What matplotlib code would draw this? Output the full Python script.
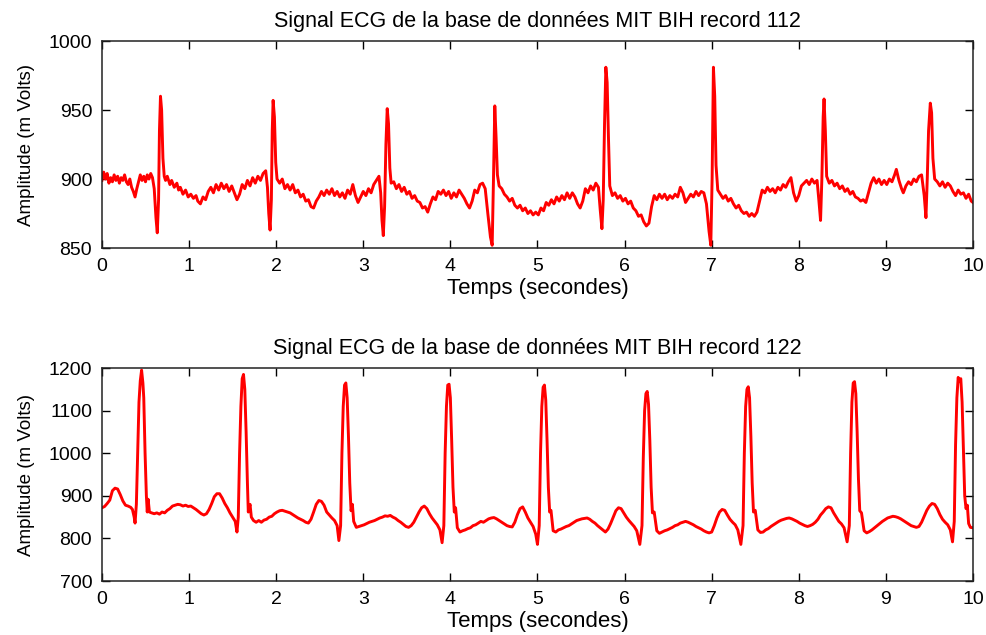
import matplotlib
matplotlib.use("Agg")
import matplotlib.pyplot as plt
import numpy as np

plt.rcParams['font.family'] = ['Liberation Sans', 'DejaVu Sans']

# enregistrement 112 : (temps en s, amplitude en mV)
rec112 = [
    (0.00, 899), (0.02, 905), (0.04, 900), (0.06, 904), (0.08, 897), (0.10, 901),
    (0.12, 898), (0.14, 903), (0.16, 899), (0.18, 902), (0.20, 897), (0.22, 901),
    (0.24, 899), (0.26, 903), (0.28, 898), (0.30, 896), (0.32, 900), (0.34, 894),
    (0.36, 891), (0.38, 887), (0.40, 893), (0.42, 898), (0.44, 903), (0.46, 899),
    (0.48, 902), (0.50, 898), (0.52, 903), (0.54, 900), (0.56, 904), (0.58, 901),
    (0.60, 893), (0.62, 872), (0.635, 861), (0.65, 885), (0.66, 935), (0.672, 960),
    (0.685, 950), (0.70, 915), (0.715, 902), (0.73, 899), (0.75, 902), (0.78, 896),
    (0.80, 899), (0.83, 894), (0.86, 897), (0.88, 892), (0.90, 894), (0.93, 889),
    (0.96, 892), (0.99, 887), (1.02, 889), (1.05, 886), (1.08, 888), (1.10, 884),
    (1.13, 882), (1.16, 887), (1.19, 885), (1.22, 891), (1.25, 894), (1.28, 890),
    (1.31, 896), (1.34, 892), (1.37, 897), (1.40, 893), (1.43, 896), (1.46, 891),
    (1.49, 895), (1.52, 890), (1.55, 885), (1.58, 889), (1.61, 896), (1.64, 893),
    (1.67, 899), (1.70, 895), (1.73, 901), (1.76, 897), (1.79, 902), (1.82, 899),
    (1.85, 904), (1.88, 906), (1.90, 894), (1.915, 875), (1.93, 863), (1.945, 885),
    (1.955, 935), (1.965, 957), (1.98, 945), (1.995, 912), (2.01, 900), (2.04, 897),
    (2.07, 900), (2.10, 893), (2.13, 896), (2.16, 892), (2.19, 896), (2.22, 890),
    (2.25, 892), (2.28, 887), (2.31, 889), (2.34, 884), (2.37, 885), (2.40, 880),
    (2.43, 879), (2.46, 884), (2.49, 887), (2.52, 891), (2.55, 888), (2.58, 892),
    (2.61, 889), (2.64, 893), (2.67, 888), (2.70, 891), (2.73, 887), (2.76, 890),
    (2.79, 886), (2.82, 892), (2.85, 889), (2.88, 896), (2.91, 888), (2.94, 883),
    (2.97, 887), (3.00, 891), (3.03, 888), (3.06, 893), (3.09, 890), (3.12, 896),
    (3.15, 899), (3.18, 902), (3.20, 890), (3.215, 870), (3.23, 859), (3.245, 880),
    (3.26, 925), (3.275, 951), (3.29, 940), (3.305, 908), (3.32, 897), (3.35, 898),
    (3.38, 893), (3.41, 896), (3.44, 891), (3.47, 894), (3.50, 889), (3.53, 891),
    (3.56, 886), (3.59, 888), (3.62, 884), (3.65, 883), (3.68, 879), (3.71, 880),
    (3.74, 876), (3.77, 882), (3.80, 887), (3.83, 885), (3.86, 891), (3.89, 889),
    (3.92, 892), (3.95, 888), (3.98, 891), (4.01, 886), (4.04, 890), (4.07, 887),
    (4.10, 892), (4.13, 889), (4.16, 886), (4.19, 882), (4.22, 879), (4.25, 884),
    (4.28, 892), (4.31, 890), (4.34, 896), (4.37, 897), (4.40, 893), (4.43, 875),
    (4.46, 858), (4.48, 852), (4.495, 900), (4.51, 953), (4.525, 930), (4.54, 903),
    (4.56, 895), (4.59, 893), (4.62, 889), (4.65, 887), (4.68, 884), (4.71, 886),
    (4.74, 881), (4.77, 879), (4.80, 881), (4.83, 877), (4.86, 879), (4.89, 875),
    (4.92, 877), (4.95, 874), (4.98, 876), (5.01, 874), (5.04, 879), (5.07, 877),
    (5.10, 883), (5.13, 881), (5.16, 885), (5.19, 882), (5.22, 887), (5.25, 884),
    (5.28, 888), (5.31, 885), (5.34, 890), (5.37, 886), (5.40, 890), (5.43, 887),
    (5.46, 882), (5.49, 879), (5.52, 884), (5.55, 893), (5.58, 890), (5.61, 895),
    (5.64, 892), (5.67, 897), (5.70, 894), (5.72, 878), (5.74, 864), (5.755, 885),
    (5.77, 940), (5.785, 981), (5.80, 970), (5.815, 930), (5.83, 895), (5.86, 888),
    (5.89, 890), (5.92, 886), (5.95, 888), (5.98, 884), (6.01, 886), (6.04, 882),
    (6.07, 884), (6.10, 879), (6.13, 877), (6.16, 873), (6.19, 874), (6.22, 869),
    (6.25, 866), (6.28, 868), (6.31, 880), (6.34, 888), (6.37, 885), (6.40, 889),
    (6.43, 886), (6.46, 889), (6.49, 885), (6.52, 888), (6.55, 886), (6.58, 889),
    (6.61, 887), (6.64, 894), (6.67, 890), (6.70, 883), (6.73, 886), (6.76, 889),
    (6.79, 887), (6.82, 891), (6.85, 888), (6.88, 891), (6.91, 890), (6.94, 882),
    (6.97, 862), (6.99, 852), (7.005, 900), (7.02, 981), (7.035, 960), (7.05, 910),
    (7.07, 892), (7.10, 889), (7.13, 886), (7.16, 888), (7.19, 884), (7.22, 886),
    (7.25, 882), (7.28, 879), (7.31, 881), (7.34, 877), (7.37, 875), (7.40, 876),
    (7.43, 873), (7.46, 875), (7.49, 873), (7.52, 876), (7.55, 884), (7.58, 892),
    (7.61, 890), (7.64, 894), (7.67, 891), (7.70, 893), (7.73, 890), (7.76, 894),
    (7.79, 892), (7.82, 896), (7.85, 894), (7.88, 898), (7.91, 901), (7.94, 890),
    (7.97, 884), (8.00, 888), (8.03, 895), (8.06, 897), (8.09, 899), (8.12, 896),
    (8.15, 900), (8.18, 897), (8.21, 899), (8.23, 885), (8.25, 870), (8.265, 900),
    (8.28, 945), (8.29, 958), (8.305, 935), (8.32, 902), (8.35, 897), (8.38, 899),
    (8.41, 895), (8.44, 897), (8.47, 893), (8.50, 895), (8.53, 891), (8.56, 893),
    (8.59, 889), (8.62, 891), (8.65, 887), (8.68, 886), (8.71, 884), (8.74, 885),
    (8.77, 883), (8.80, 890), (8.83, 897), (8.86, 901), (8.89, 897), (8.92, 900),
    (8.95, 896), (8.98, 899), (9.01, 896), (9.04, 900), (9.07, 898), (9.10, 903),
    (9.12, 907), (9.15, 899), (9.18, 893), (9.20, 890), (9.23, 895), (9.26, 898),
    (9.29, 896), (9.32, 900), (9.35, 898), (9.38, 902), (9.41, 903), (9.44, 888),
    (9.46, 872), (9.475, 900), (9.49, 935), (9.51, 955), (9.525, 948), (9.54, 915),
    (9.56, 900), (9.59, 898), (9.62, 895), (9.65, 898), (9.68, 894), (9.71, 897),
    (9.74, 895), (9.77, 891), (9.80, 888), (9.83, 892), (9.86, 889), (9.89, 890),
    (9.92, 886), (9.95, 889), (9.98, 884), (10.00, 883),
]

# enregistrement 122
rec122 = [
    (0.00, 872), (0.03, 875), (0.06, 882), (0.09, 890), (0.12, 912), (0.15, 918),
    (0.18, 916), (0.21, 903), (0.24, 888), (0.27, 878), (0.30, 876), (0.33, 873),
    (0.35, 868), (0.37, 850), (0.38, 836), (0.395, 880), (0.41, 1000), (0.425, 1120),
    (0.44, 1170), (0.455, 1195), (0.47, 1165), (0.48, 1130), (0.495, 1000), (0.51, 900),
    (0.52, 862), (0.53, 892), (0.545, 862), (0.57, 860), (0.60, 858), (0.63, 860),
    (0.66, 857), (0.69, 862), (0.72, 860), (0.75, 866), (0.78, 870), (0.81, 876),
    (0.84, 878), (0.87, 880), (0.90, 879), (0.93, 876), (0.96, 878), (0.99, 875),
    (1.02, 876), (1.05, 872), (1.08, 868), (1.11, 863), (1.14, 858), (1.17, 855),
    (1.20, 858), (1.23, 868), (1.26, 882), (1.29, 898), (1.32, 905), (1.35, 905),
    (1.38, 895), (1.41, 882), (1.44, 872), (1.47, 860), (1.50, 850), (1.53, 840),
    (1.55, 815), (1.565, 850), (1.58, 1000), (1.595, 1110), (1.61, 1175), (1.625, 1185),
    (1.64, 1150), (1.655, 1050), (1.67, 930), (1.68, 862), (1.70, 880), (1.715, 850),
    (1.74, 842), (1.77, 838), (1.80, 842), (1.83, 838), (1.86, 843), (1.89, 845),
    (1.92, 850), (1.95, 852), (1.98, 858), (2.01, 862), (2.04, 865), (2.07, 866),
    (2.10, 864), (2.13, 862), (2.16, 860), (2.19, 856), (2.22, 852), (2.25, 848),
    (2.28, 845), (2.31, 842), (2.34, 838), (2.37, 836), (2.40, 845), (2.43, 862),
    (2.46, 880), (2.49, 889), (2.52, 887), (2.55, 878), (2.58, 862), (2.61, 855),
    (2.64, 848), (2.67, 842), (2.70, 830), (2.72, 795), (2.74, 830), (2.755, 1000),
    (2.77, 1110), (2.785, 1160), (2.80, 1165), (2.815, 1130), (2.83, 1040), (2.845, 930),
    (2.86, 865), (2.875, 880), (2.89, 840), (2.92, 826), (2.95, 828), (2.98, 830),
    (3.01, 832), (3.04, 835), (3.07, 838), (3.10, 840), (3.13, 842), (3.16, 845),
    (3.19, 848), (3.22, 850), (3.25, 853), (3.28, 852), (3.31, 854), (3.34, 850),
    (3.37, 847), (3.40, 842), (3.43, 838), (3.46, 833), (3.49, 828), (3.52, 826),
    (3.55, 830), (3.58, 838), (3.61, 850), (3.64, 862), (3.67, 872), (3.70, 876),
    (3.73, 870), (3.76, 858), (3.79, 848), (3.82, 840), (3.85, 832), (3.88, 820),
    (3.905, 790), (3.925, 830), (3.94, 1000), (3.955, 1110), (3.97, 1160), (3.985, 1162),
    (4.00, 1130), (4.015, 1030), (4.03, 920), (4.045, 862), (4.06, 872), (4.08, 825),
    (4.11, 815), (4.14, 818), (4.17, 820), (4.20, 823), (4.23, 825), (4.26, 830),
    (4.29, 832), (4.32, 836), (4.35, 840), (4.38, 838), (4.41, 842), (4.44, 846),
    (4.47, 848), (4.50, 849), (4.53, 846), (4.56, 842), (4.59, 838), (4.62, 834),
    (4.65, 830), (4.68, 828), (4.71, 827), (4.74, 838), (4.77, 856), (4.80, 870),
    (4.83, 874), (4.86, 862), (4.89, 848), (4.92, 838), (4.95, 828), (4.98, 810),
    (5.00, 786), (5.02, 830), (5.035, 1000), (5.05, 1110), (5.065, 1155), (5.08, 1160),
    (5.095, 1125), (5.11, 1030), (5.125, 920), (5.14, 862), (5.155, 866), (5.18, 818),
    (5.21, 815), (5.24, 820), (5.27, 822), (5.30, 825), (5.33, 828), (5.36, 830),
    (5.39, 834), (5.42, 838), (5.45, 842), (5.48, 844), (5.51, 846), (5.54, 847),
    (5.57, 848), (5.60, 845), (5.63, 840), (5.66, 836), (5.69, 830), (5.72, 825),
    (5.75, 820), (5.78, 815), (5.81, 822), (5.84, 835), (5.87, 850), (5.90, 865),
    (5.93, 872), (5.96, 870), (5.99, 860), (6.02, 850), (6.05, 842), (6.08, 835),
    (6.11, 828), (6.14, 818), (6.175, 786), (6.20, 830), (6.215, 990), (6.23, 1100),
    (6.245, 1140), (6.26, 1145), (6.275, 1115), (6.29, 1030), (6.305, 920), (6.32, 860),
    (6.34, 862), (6.37, 818), (6.40, 812), (6.43, 815), (6.46, 818), (6.49, 820),
    (6.52, 823), (6.55, 826), (6.58, 830), (6.61, 832), (6.64, 836), (6.67, 838),
    (6.70, 840), (6.73, 838), (6.76, 835), (6.79, 832), (6.82, 828), (6.85, 825),
    (6.88, 822), (6.91, 818), (6.94, 815), (6.97, 813), (7.00, 815), (7.03, 830),
    (7.06, 848), (7.09, 862), (7.12, 868), (7.15, 866), (7.18, 855), (7.21, 845),
    (7.24, 838), (7.27, 832), (7.30, 820), (7.335, 786), (7.36, 830), (7.375, 1000),
    (7.39, 1110), (7.405, 1150), (7.42, 1156), (7.435, 1130), (7.45, 1040), (7.465, 930),
    (7.48, 862), (7.50, 866), (7.53, 820), (7.56, 814), (7.59, 815), (7.62, 820),
    (7.65, 823), (7.68, 828), (7.71, 832), (7.74, 836), (7.77, 840), (7.80, 843),
    (7.83, 845), (7.86, 847), (7.89, 848), (7.92, 846), (7.95, 843), (7.98, 840),
    (8.01, 836), (8.04, 833), (8.07, 830), (8.10, 828), (8.13, 830), (8.16, 833),
    (8.19, 838), (8.22, 845), (8.25, 855), (8.28, 862), (8.31, 870), (8.34, 874),
    (8.37, 872), (8.40, 860), (8.43, 850), (8.46, 840), (8.49, 834), (8.52, 825),
    (8.555, 792), (8.58, 830), (8.595, 1000), (8.61, 1120), (8.625, 1165), (8.64, 1168),
    (8.655, 1140), (8.67, 1050), (8.685, 940), (8.70, 865), (8.72, 860), (8.75, 818),
    (8.78, 813), (8.81, 816), (8.84, 820), (8.87, 825), (8.90, 830), (8.93, 835),
    (8.96, 840), (8.99, 844), (9.02, 848), (9.05, 850), (9.08, 852), (9.11, 851),
    (9.14, 849), (9.17, 846), (9.20, 842), (9.23, 838), (9.26, 834), (9.29, 830),
    (9.32, 828), (9.35, 826), (9.38, 828), (9.41, 838), (9.44, 852), (9.47, 866),
    (9.50, 876), (9.53, 882), (9.56, 880), (9.59, 870), (9.62, 856), (9.65, 845),
    (9.68, 838), (9.71, 832), (9.74, 820), (9.765, 792), (9.785, 840), (9.80, 1020),
    (9.815, 1130), (9.83, 1178), (9.845, 1168), (9.86, 1175), (9.875, 1120), (9.89, 1010),
    (9.905, 900), (9.92, 870), (9.935, 878), (9.95, 835), (9.97, 826), (10.00, 825),
]

titres = ["Signal ECG de la base de données MIT BIH record 112",
          "Signal ECG de la base de données MIT BIH record 122"]
ylims = [(850, 1000), (700, 1200)]
yticks = [[850, 900, 950, 1000], [700, 800, 900, 1000, 1100, 1200]]
xticks = list(range(0, 11))

fig = plt.figure(figsize=(9.87, 6.35), dpi=100)
ax1 = fig.add_axes([0.1033, 0.6094, 0.8825, 0.326])
ax2 = fig.add_axes([0.1033, 0.0850, 0.8825, 0.3354])

for ax, rec, titre, yl, yt in zip([ax1, ax2], [rec112, rec122], titres, ylims, yticks):
    t = np.array([p[0] for p in rec])
    v = np.array([p[1] for p in rec])
    ax.plot(t, v, color='#ff0000', lw=2.1)
    ax.set_xlim(0, 10)
    ax.set_ylim(*yl)
    ax.set_xticks(xticks)
    ax.set_yticks(yt)
    ax.tick_params(direction='in', length=6, width=1.0, top=True, right=True,
                   labelsize=14, pad=7)
    for s in ax.spines.values():
        s.set_linewidth(1.1)
        s.set_color('#222222')
    ax.set_title(titre, fontsize=15.5, pad=10)
    ax.set_xlabel('Temps (secondes)', fontsize=16, labelpad=2)
    ax.set_ylabel('Amplitude (m Volts)', fontsize=13.5, labelpad=10)

fig.savefig('out.png', dpi=100)
